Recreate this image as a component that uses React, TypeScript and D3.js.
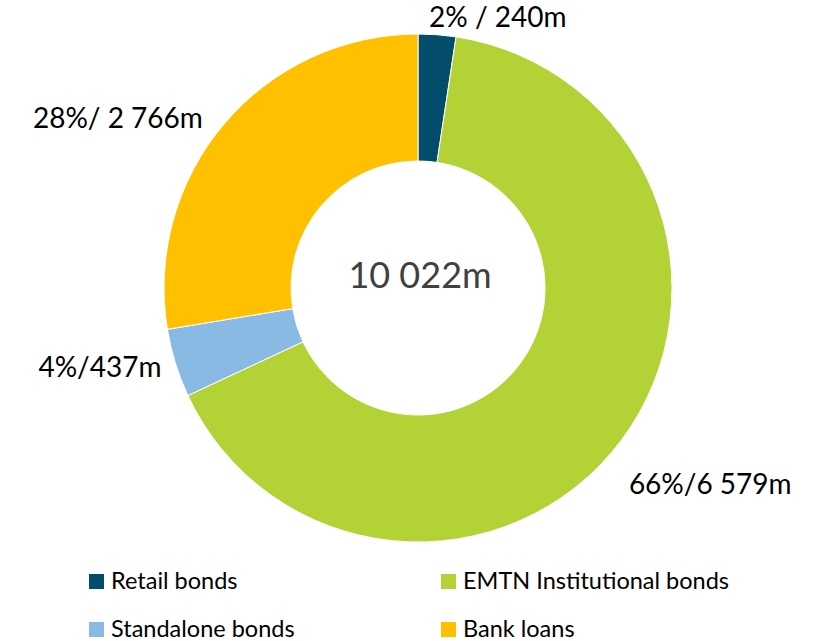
import React, { useEffect, useRef } from "react";
import * as d3 from "d3";

const categories = ["Retail bonds", "EMTN Institutional bonds", "Standalone bonds", "Bank loans"];
const amounts = [240, 6579, 437, 2766];
const sliceLabels = ["2% / 240m", "66%/6 579m", "4%/437m", "28%/ 2 766m"];
const totalLabel = "10 022m";
const colors = ["#034d6a", "#b2d235", "#88bae4", "#ffc000"];

// hand-tuned nudges from the default outside position, like moved data labels
const labelNudge: [number, number][] = [
  [58, 18],
  [60, 22],
  [-41, -7],
  [-79, 18],
];

const W = 815;
const H = 641;

const App: React.FC = () => {
  const ref = useRef<SVGSVGElement | null>(null);

  useEffect(() => {
    if (!ref.current) return;
    const svg = d3.select(ref.current);
    svg.selectAll("*").remove();

    const cx = 418;
    const cy = 288;
    const outerR = 254;
    const innerR = 127;
    const font = "Lato, 'Open Sans', sans-serif";

    const pie = d3
      .pie<number>()
      .sort(null)
      .value((d) => d);
    const arcs = pie(amounts);

    const arc = d3.arc<d3.PieArcDatum<number>>().innerRadius(innerR).outerRadius(outerR);
    const labelArc = d3.arc<d3.PieArcDatum<number>>().innerRadius(290).outerRadius(290);

    const g = svg.append("g").attr("transform", `translate(${cx},${cy})`);

    g.selectAll("path.slice")
      .data(arcs)
      .enter()
      .append("path")
      .attr("class", "slice")
      .attr("d", arc)
      .attr("fill", (_, i) => colors[i])
      .attr("stroke", "#ffffff")
      .attr("stroke-width", 1);

    g.selectAll("text.lbl")
      .data(arcs)
      .enter()
      .append("text")
      .attr("class", "lbl")
      .attr("x", (d, i) => labelArc.centroid(d)[0] + labelNudge[i][0])
      .attr("y", (d, i) => labelArc.centroid(d)[1] + labelNudge[i][1])
      .attr("dy", "0.36em")
      .attr("text-anchor", "middle")
      .attr("font-family", font)
      .attr("font-size", 28)
      .attr("fill", "#000000")
      .text((_, i) => sliceLabels[i]);

    g.append("text")
      .attr("x", 2)
      .attr("y", -13)
      .attr("dy", "0.36em")
      .attr("text-anchor", "middle")
      .attr("font-family", font)
      .attr("font-size", 36)
      .attr("fill", "#404040")
      .text(totalLabel);

    // legend, 2 columns x 2 rows
    const colX = [89, 441];
    const rowY = [574, 622];
    const legend = svg
      .selectAll("g.leg")
      .data(categories)
      .enter()
      .append("g")
      .attr("class", "leg")
      .attr("transform", (_, i) => `translate(${colX[i % 2]},${rowY[Math.floor(i / 2)]})`);

    legend
      .append("rect")
      .attr("width", 15)
      .attr("height", 15)
      .attr("fill", (_, i) => colors[i]);

    legend
      .append("text")
      .attr("x", 22)
      .attr("y", 15)
      .attr("font-family", font)
      .attr("font-size", 23.5)
      .attr("fill", "#000000")
      .text((d) => d);
  }, []);

  return (
    <svg
      ref={ref}
      width={W}
      height={H}
      style={{ position: "absolute", left: 0, top: 0, background: "#ffffff" }}
    ></svg>
  );
};

export default App;
